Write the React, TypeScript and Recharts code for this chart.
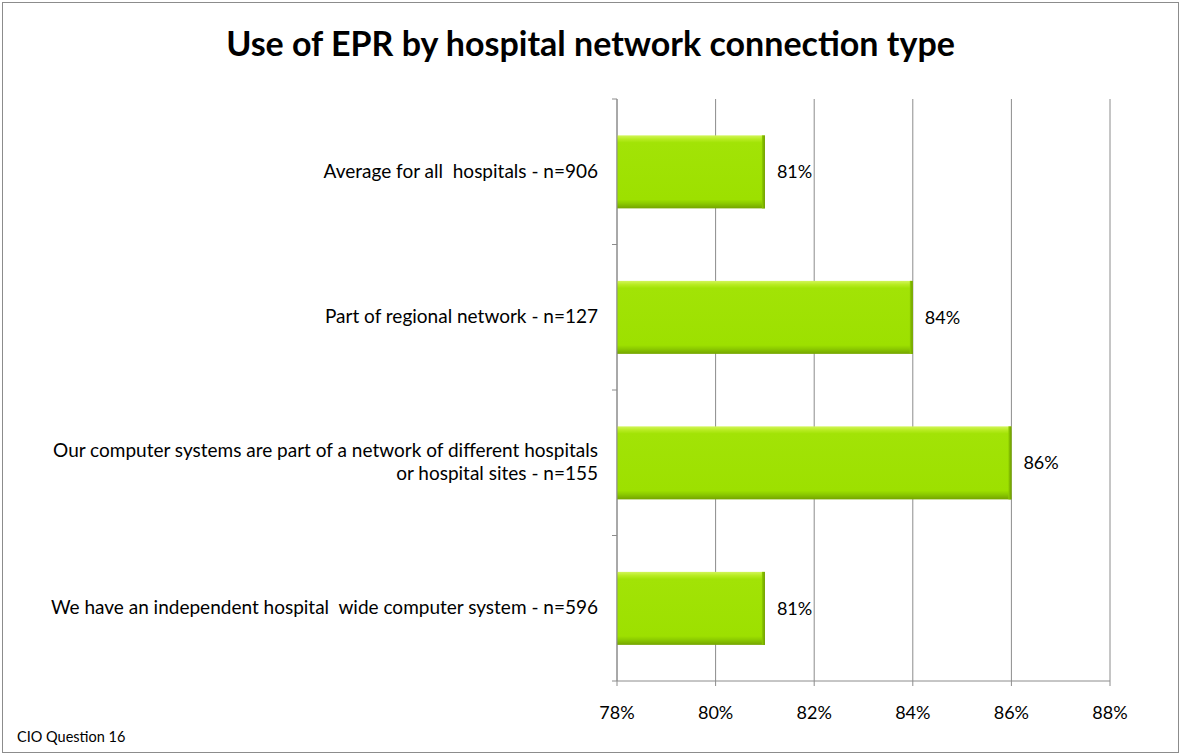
import { BarChart, Bar, XAxis, YAxis, CartesianGrid, LabelList } from "recharts";

const categories = [
  "Average for all  hospitals - n=906",
  "Part of regional network - n=127",
  "Our computer systems are part of a network of different hospitals|or hospital sites - n=155",
  "We have an independent hospital  wide computer system - n=596",
];
const eprUse = [81, 84, 86, 81];
const xTicks = [78, 80, 82, 84, 86, 88];

const data = categories.map((name, i) => ({ name, value: eprUse[i] }));

const FONT = "Lato, 'Open Sans', sans-serif";
const AXIS = "#8c8c8c";
const CAT_MARGIN = 19;

function CategoryTick(props: any) {
  const { x, y, payload, index, visibleTicksCount } = props;
  const lines = String(payload.value).split("|");
  const lh = 23;
  const startY = y - ((lines.length - 1) * lh) / 2;
  const half = payload.offset || 0;
  const ax = x + CAT_MARGIN;
  const isLast = index === (visibleTicksCount ?? 4) - 1;
  return (
    <g>
      <line x1={ax - 5} x2={ax} y1={y - half} y2={y - half} stroke={AXIS} />
      {isLast && <line x1={ax - 5} x2={ax} y1={y + half} y2={y + half} stroke={AXIS} />}
      <text x={x} y={startY} textAnchor="end" fontSize={19} fontFamily={FONT} fill="#000" style={{ whiteSpace: "pre" }}>
        {lines.map((l, i) => (
          <tspan key={i} x={x} dy={i === 0 ? 6 : lh}>
            {l}
          </tspan>
        ))}
      </text>
    </g>
  );
}

function BevelBar(props: any) {
  const { x, y, width, height } = props;
  if (!width || width <= 0) return null;
  return (
    <g>
      <rect x={x} y={y} width={width} height={height} fill="url(#barGrad)" />
      <rect x={x + width - 3} y={y} width={3} height={height} fill="url(#edgeGrad)" />
    </g>
  );
}

export default function App() {
  return (
    <div style={{ position: "absolute", left: 0, top: 0, width: 1181, height: 756, background: "#fff" }}>
      <div
        style={{
          position: "absolute",
          left: 2,
          top: 2,
          width: 1175,
          height: 749,
          border: "1px solid #8c8c8c",
        }}
      />
      <div
        style={{
          position: "absolute",
          left: 0,
          top: 22,
          width: 1181,
          textAlign: "center",
          fontFamily: FONT,
          fontWeight: 700,
          fontSize: 34,
          color: "#000",
        }}
      >
        Use of EPR by hospital network connection type
      </div>
      <div
        style={{
          position: "absolute",
          left: 17,
          top: 728,
          fontFamily: FONT,
          fontSize: 14.5,
          color: "#000",
        }}
      >
        CIO Question 16
      </div>
      <div style={{ position: "absolute", left: 0, top: 0 }}>
        <BarChart
          width={1181}
          height={756}
          data={data}
          layout="vertical"
          barCategoryGap="25%"
          margin={{ top: 99, right: 71, bottom: 0, left: 0 }}
        >
          <defs>
            <linearGradient id="barGrad" x1="0" y1="0" x2="0" y2="1">
              <stop offset="0%" stopColor="#d2f55a" />
              <stop offset="5%" stopColor="#b8ec22" />
              <stop offset="10%" stopColor="#a2e306" />
              <stop offset="88%" stopColor="#9de000" />
              <stop offset="93%" stopColor="#8ccb00" />
              <stop offset="100%" stopColor="#74a400" />
            </linearGradient>
            <linearGradient id="edgeGrad" x1="0" y1="0" x2="1" y2="0">
              <stop offset="0%" stopColor="#8fcf00" />
              <stop offset="100%" stopColor="#6f9c00" />
            </linearGradient>
          </defs>
          <CartesianGrid horizontal={false} stroke={AXIS} strokeWidth={1} />
          <XAxis
            type="number"
            domain={[78, 88]}
            ticks={xTicks}
            allowDataOverflow
            height={75}
            tickFormatter={(v: number) => `${v}%`}
            stroke={AXIS}
            tickSize={5}
            tickMargin={20}
            tick={{ fill: "#000", fontSize: 18, fontFamily: FONT }}
          />
          <YAxis
            type="category"
            dataKey="name"
            width={617}
            axisLine={{ stroke: AXIS }}
            tickLine={false}
            tickSize={0}
            tickMargin={CAT_MARGIN}
            tick={<CategoryTick />}
          />
          <Bar dataKey="value" shape={<BevelBar />} isAnimationActive={false}>
            <LabelList
              dataKey="value"
              position="right"
              offset={12}
              formatter={(v: number) => `${v}%`}
              style={{ fill: "#000", fontSize: 18, fontFamily: FONT }}
            />
          </Bar>
        </BarChart>
      </div>
    </div>
  );
}
